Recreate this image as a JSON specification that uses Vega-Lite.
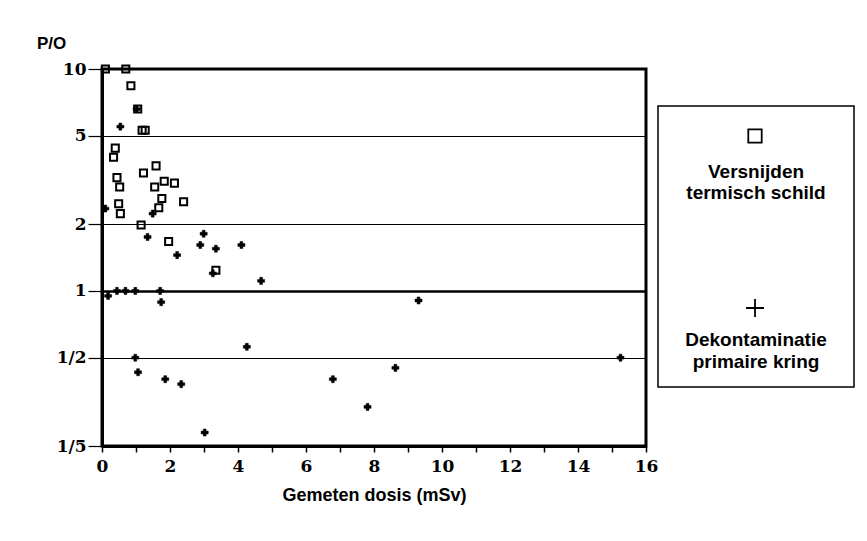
{
  "$schema": "https://vega.github.io/schema/vega-lite/v6.json",
  "autosize": "pad",
  "padding": {"left": 35, "top": 33, "right": 0, "bottom": 0},
  "background": "white",
  "config": {"font": "Liberation Sans"},
  "bounds": "flush",
  "spacing": 12,
  "hconcat": [
    {
      "width": 544,
      "height": 377,
      "view": {"stroke": "black", "strokeWidth": 3},
      "title": {"text": "P/O", "anchor": "start", "frame": "group", "dx": -65, "offset": 7, "fontSize": 17, "fontWeight": "bold", "font": "Liberation Sans", "color": "black"},
      "data": {"values": [
        {"dose": 0.1, "po": 10, "type": "T"},
        {"dose": 0.7, "po": 10, "type": "T"},
        {"dose": 0.85, "po": 8.4, "type": "T"},
        {"dose": 1.05, "po": 6.6, "type": "T"},
        {"dose": 1.18, "po": 5.3, "type": "T"},
        {"dose": 1.27, "po": 5.3, "type": "T"},
        {"dose": 0.39, "po": 4.4, "type": "T"},
        {"dose": 0.34, "po": 4.0, "type": "T"},
        {"dose": 1.59, "po": 3.66, "type": "T"},
        {"dose": 1.22, "po": 3.4, "type": "T"},
        {"dose": 0.44, "po": 3.24, "type": "T"},
        {"dose": 0.52, "po": 2.94, "type": "T"},
        {"dose": 1.55, "po": 2.94, "type": "T"},
        {"dose": 1.83, "po": 3.12, "type": "T"},
        {"dose": 2.13, "po": 3.06, "type": "T"},
        {"dose": 0.49, "po": 2.47, "type": "T"},
        {"dose": 0.54, "po": 2.23, "type": "T"},
        {"dose": 1.76, "po": 2.61, "type": "T"},
        {"dose": 1.67, "po": 2.37, "type": "T"},
        {"dose": 2.4, "po": 2.52, "type": "T"},
        {"dose": 1.15, "po": 1.98, "type": "T"},
        {"dose": 1.96, "po": 1.67, "type": "T"},
        {"dose": 3.35, "po": 1.24, "type": "T"},
        {"dose": 1.02, "po": 6.6, "type": "D"},
        {"dose": 0.54, "po": 5.5, "type": "D"},
        {"dose": 0.1, "po": 2.35, "type": "D"},
        {"dose": 1.49, "po": 2.23, "type": "D"},
        {"dose": 1.34, "po": 1.75, "type": "D"},
        {"dose": 2.99, "po": 1.81, "type": "D"},
        {"dose": 2.89, "po": 1.61, "type": "D"},
        {"dose": 3.35, "po": 1.55, "type": "D"},
        {"dose": 4.1, "po": 1.61, "type": "D"},
        {"dose": 2.21, "po": 1.45, "type": "D"},
        {"dose": 3.26, "po": 1.2, "type": "D"},
        {"dose": 4.68, "po": 1.11, "type": "D"},
        {"dose": 0.44, "po": 1.0, "type": "D"},
        {"dose": 0.69, "po": 1.0, "type": "D"},
        {"dose": 0.98, "po": 1.0, "type": "D"},
        {"dose": 1.71, "po": 1.0, "type": "D"},
        {"dose": 0.18, "po": 0.95, "type": "D"},
        {"dose": 1.74, "po": 0.89, "type": "D"},
        {"dose": 9.31, "po": 0.905, "type": "D"},
        {"dose": 15.25, "po": 0.5, "type": "D"},
        {"dose": 6.79, "po": 0.4, "type": "D"},
        {"dose": 8.63, "po": 0.45, "type": "D"},
        {"dose": 7.81, "po": 0.3, "type": "D"},
        {"dose": 0.98, "po": 0.5, "type": "D"},
        {"dose": 1.06, "po": 0.43, "type": "D"},
        {"dose": 1.86, "po": 0.4, "type": "D"},
        {"dose": 2.33, "po": 0.38, "type": "D"},
        {"dose": 3.02, "po": 0.23, "type": "D"},
        {"dose": 4.26, "po": 0.56, "type": "D"}
      ]},
      "mark": {"type": "point", "color": "black", "opacity": 1},
      "encoding": {
        "x": {
          "field": "dose", "type": "quantitative",
          "scale": {"domain": [0, 16], "nice": false, "zero": false},
          "axis": {
            "values": [0,1,2,3,4,5,6,7,8,9,10,11,12,13,14,15,16],
            "labelExpr": "datum.value % 2 === 0 ? datum.label : ''",
            "labelFlush": false, "labelOverlap": false,
            "grid": false,
            "domain": true, "domainColor": "black", "domainWidth": 3,
            "ticks": true, "tickColor": "black", "tickWidth": 1.5, "tickSize": 6,
            "labelFont": "DejaVu Serif", "labelFontSize": 17, "labelFontWeight": "bold", "labelColor": "black", "labelPadding": 6,
            "title": "Gemeten dosis (mSv)", "titleFont": "Liberation Sans", "titleFontSize": 18, "titleFontWeight": "bold", "titleColor": "black", "titlePadding": 12
          }
        },
        "y": {
          "field": "po", "type": "quantitative",
          "scale": {"type": "log", "domain": [0.2, 10], "nice": false},
          "axis": {
            "values": [0.2, 0.5, 1, 2, 5, 10],
            "labelExpr": "datum.value < 1 ? '1/' + round(1 / datum.value) : '' + round(datum.value)",
            "labelFlush": false, "labelOverlap": false,
            "grid": true, "gridColor": "black", "gridOpacity": 1,
            "gridWidth": {"condition": {"test": "datum.value === 1", "value": 2.5}, "value": 1.2},
            "domain": true, "domainColor": "black", "domainWidth": 3,
            "ticks": true, "tickColor": "black", "tickWidth": 1.2, "tickSize": 14,
            "labelFont": "DejaVu Serif", "labelFontSize": 17, "labelFontWeight": "bold", "labelColor": "black", "labelPadding": 2,
            "title": null
          }
        },
        "shape": {
          "field": "type", "type": "nominal",
          "scale": {"domain": ["T", "D"], "range": ["square", "cross"]},
          "legend": null
        },
        "fill": {"condition": {"test": "datum.type === 'D'", "value": "black"}, "value": "transparent"},
        "strokeWidth": {"condition": {"test": "datum.type === 'D'", "value": 0.5}, "value": 2},
        "size": {"condition": {"test": "datum.type === 'D'", "value": 50}, "value": 50}
      }
    },
    {
      "width": 196,
      "height": 318,
      "view": {"stroke": null},
      "data": {"values": [
        {"item": "box", "x": 0, "x2": 196, "y": 37, "y2": 318, "label": ""},
        {"item": "sq", "x": 97, "y": 67, "label": ""},
        {"item": "plus", "x": 97, "y": 239, "label": ""},
        {"item": "text", "x": 98, "y": 103, "label": "Versnijden"},
        {"item": "text", "x": 98, "y": 124, "label": "termisch  schild"},
        {"item": "text", "x": 98, "y": 271, "label": "Dekontaminatie"},
        {"item": "text", "x": 98, "y": 293, "label": "primaire  kring"}
      ]},
      "layer": [
        {
          "transform": [{"filter": "datum.item === 'box'"}],
          "mark": {"type": "rect", "fill": "white", "stroke": "black", "strokeWidth": 1.5},
          "encoding": {
            "x": {"field": "x", "type": "quantitative", "scale": {"domain": [0, 196], "nice": false, "zero": false}, "axis": null},
            "x2": {"field": "x2"},
            "y": {"field": "y", "type": "quantitative", "scale": {"domain": [0, 318], "nice": false, "zero": false, "reverse": true}, "axis": null},
            "y2": {"field": "y2"}
          }
        },
        {
          "transform": [{"filter": "datum.item === 'sq'"}],
          "mark": {"type": "point", "shape": "square", "filled": false, "color": "black", "strokeWidth": 1.8, "size": 180, "opacity": 1},
          "encoding": {
            "x": {"field": "x", "type": "quantitative"},
            "y": {"field": "y", "type": "quantitative"}
          }
        },
        {
          "transform": [{"filter": "datum.item === 'plus'"}],
          "mark": {"type": "point", "shape": "M-1,0H1M0,-1V1", "filled": false, "color": "black", "strokeWidth": 1.8, "size": 320, "opacity": 1},
          "encoding": {
            "x": {"field": "x", "type": "quantitative"},
            "y": {"field": "y", "type": "quantitative"}
          }
        },
        {
          "transform": [{"filter": "datum.item === 'text'"}],
          "mark": {"type": "text", "font": "Liberation Sans", "fontWeight": "bold", "fontSize": 19, "color": "black", "align": "center", "baseline": "middle"},
          "encoding": {
            "x": {"field": "x", "type": "quantitative"},
            "y": {"field": "y", "type": "quantitative"},
            "text": {"field": "label"}
          }
        }
      ]
    }
  ]
}
